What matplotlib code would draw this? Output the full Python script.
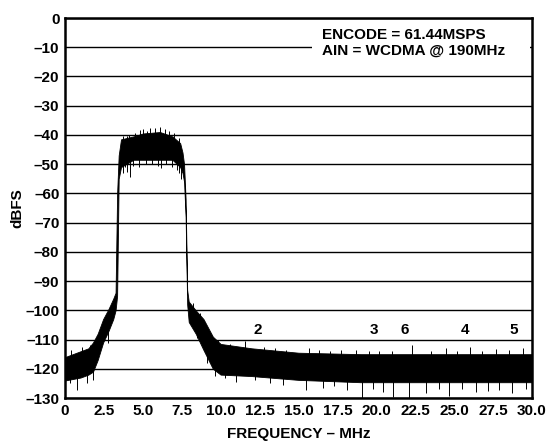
import numpy as np
import matplotlib.pyplot as plt
from matplotlib.patches import Rectangle

plt.rcParams['font.family'] = ['Liberation Sans', 'DejaVu Sans']
plt.rcParams['font.weight'] = 'bold'

# noise band envelope (MHz, dBFS)
freq = [0.0, 0.5, 1.0, 1.5, 1.8, 2.1, 2.45, 2.8, 3.1, 3.25, 3.35, 3.45, 3.6,
        4.4, 5.0, 6.1, 6.9, 7.4, 7.55, 7.65, 7.75, 7.85, 7.95, 8.4, 8.9, 9.5,
        10.0, 12.0, 15.0, 19.0, 22.0, 26.0, 30.0]
upper = [-116, -115, -114, -113, -111, -108, -103, -99.5, -96, -94, -60, -47, -41.5,
         -40.5, -39.5, -39, -40.5, -42.8, -46, -50, -62, -93, -97, -100, -103, -109,
         -111.5, -113, -114.5, -115, -115, -115, -115]
lower = [-124, -123.5, -123, -122, -121, -117, -111, -107, -103, -100, -95, -55, -51,
         -48.5, -48.5, -48.5, -48.5, -51, -53, -56, -68, -98, -104, -108, -113.6, -120,
         -122, -122.5, -123.8, -124.6, -124.6, -124.6, -124.6]

# individual spikes sticking out of the band
spike_up_f = [3.7, 3.96, 4.1, 4.5, 4.8, 5.0, 5.3, 5.46, 5.8, 6.1, 6.4, 6.7, 7.0, 7.3,
              0.4, 1.1, 1.6, 2.3, 8.2, 8.7, 9.83, 10.6, 11.56, 12.8, 13.5, 14.2, 15.7,
              16.3, 17.0, 17.7, 18.7, 19.5, 20.2, 21.0, 22.3, 23.5, 24.5, 25.2, 26.0,
              26.8, 27.7, 28.5, 29.4]
spike_up_db = [-40.5, -40.5, -40, -39.5, -38.3, -38, -38.5, -37.7, -37.5, -37.2, -38,
               -38.5, -39.5, -41, -113.5, -112.5, -112, -106, -97.5, -101, -110.2,
               -111.5, -110.4, -112.5, -113, -113.6, -113, -113.5, -114, -113.6, -113.6,
               -114, -114, -113.8, -112, -114, -113, -113.8, -112.5, -113.8, -113.3,
               -113.5, -113]
spike_dn_f = [3.7, 3.85, 3.96, 4.17, 4.4, 4.78, 5.2, 5.6, 6.0, 6.2, 6.5, 6.9, 7.17,
              7.3, 7.45, 0.32, 0.75, 1.41, 1.8, 2.78, 8.46, 9.1, 9.63, 10.3, 11.0,
              12.2, 13.2, 14.0, 15.5, 16.6, 17.3, 18.1, 19.1, 19.8, 20.45, 21.1, 22.1,
              23.2, 24.0, 24.7, 25.5, 26.4, 27.2, 27.9, 28.7, 29.6]
spike_dn_db = [-53, -51, -52.6, -54.3, -50.5, -50.9, -50, -50, -50.5, -51.4, -49.8,
               -51, -52, -53, -55, -125, -127.3, -125, -124, -111.2, -109.6, -118,
               -122.5, -123.2, -124.5, -124, -124.9, -125.5, -127.3, -126.6, -126,
               -127.3, -130, -127, -127.8, -129.5, -130, -128.4, -127, -129.4, -127,
               -127.8, -127.5, -127.3, -128.4, -127]

harm_labels = ['2', '3', '6', '4', '5']
harm_f = [12.4, 19.85, 21.8, 25.7, 28.8]

xticks = [0, 2.5, 5.0, 7.5, 10.0, 12.5, 15.0, 17.5, 20.0, 22.5, 25.0, 27.5, 30.0]
xtick_labels = ['0', '2.5', '5.0', '7.5', '10.0', '12.5', '15.0', '17.5', '20.0',
                '22.5', '25.0', '27.5', '30.0']
yticks = list(range(-130, 1, 10))

fig = plt.figure(figsize=(5.46, 4.46), dpi=100)
ax = fig.add_axes([0.119, 0.1076, 0.8553, 0.8520])

ax.fill_between(freq, lower, upper, color='black', lw=0.6, zorder=3)
mid = (np.array(upper) + np.array(lower)) / 2
ax.vlines(spike_up_f, np.interp(spike_up_f, freq, mid), spike_up_db,
          color='black', lw=0.7, zorder=3)
ax.vlines(spike_dn_f, spike_dn_db, np.interp(spike_dn_f, freq, mid),
          color='black', lw=0.7, zorder=3)

for lab, f in zip(harm_labels, harm_f):
    ax.text(f, -106.7, lab, ha='center', va='center', fontsize=11, fontweight='bold')

ax.add_patch(Rectangle((15.9, -15), 14.0, 13, facecolor='white', edgecolor='none', zorder=2))
ax.text(16.5, -8.5, 'ENCODE = 61.44MSPS\nAIN = WCDMA @ 190MHz', ha='left', va='center',
        fontsize=11, fontweight='bold', linespacing=1.15, zorder=4)

ax.set_xlim(0, 30)
ax.set_ylim(-130, 0)
ax.set_xticks(xticks)
ax.set_xticklabels(xtick_labels)
ax.set_yticks(yticks)
ax.set_yticklabels([('\u2013' + str(-v)) if v < 0 else '0' for v in yticks])
ax.tick_params(length=0, labelsize=11, pad=4)
for lab in ax.get_xticklabels() + ax.get_yticklabels():
    lab.set_fontweight('bold')

ax.yaxis.grid(True, color='black', lw=1.0, zorder=1)
ax.set_axisbelow(True)
for s in ax.spines.values():
    s.set_linewidth(1.8)

ax.set_xlabel('FREQUENCY \u2013 MHz', fontsize=11, fontweight='bold', labelpad=7)
ax.set_ylabel('dBFS', fontsize=11, fontweight='bold', labelpad=1)

fig.savefig('out.png', dpi=100)
